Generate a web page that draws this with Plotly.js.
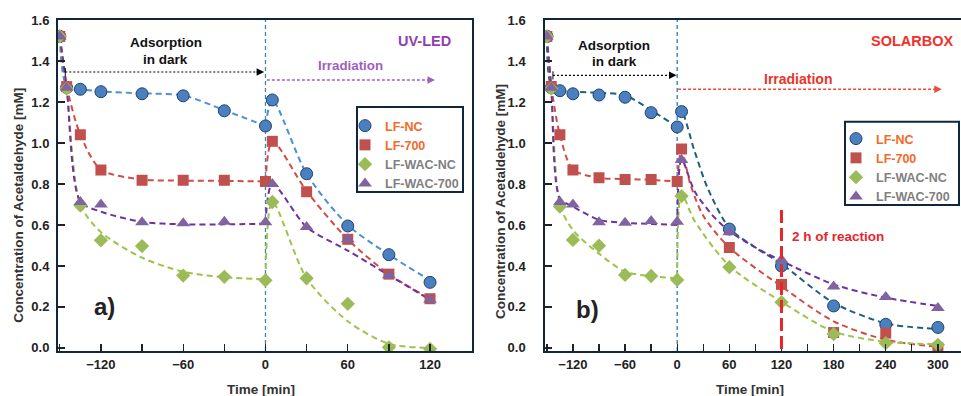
<!DOCTYPE html>
<html><head><meta charset="utf-8">
<script src="https://cdn.plot.ly/plotly-3.0.1.min.js"></script>
<style>html,body{margin:0;padding:0;background:#fff}#chart{width:961px;height:396px}</style>
</head><body><div id="chart"></div>
<script>
// ---------- data ----------
const T_DARK  = [-150,-145,-135,-120,-90,-60,-30,0];
const T_IRR_A = [5,30,60,90,120];
const T_IRR_B = [5,60,120,180,240,300];

const SERIES = ['LF-NC','LF-700','LF-WAC-NC','LF-WAC-700'];

// panel a) UV-LED measured points
const A_NC   = [1.52,1.27,1.262,1.25,1.24,1.23,1.157,1.083, 1.21,0.85,0.595,0.455,0.32];
const A_700  = [1.52,1.275,1.04,0.868,0.818,0.818,0.818,0.812, 1.008,0.762,0.53,0.36,0.24];
const A_WNC  = [1.52,1.265,0.695,0.525,0.497,0.353,0.347,0.33, 0.712,0.34,0.215,0.003,-0.005];
const A_W700 = [1.52,1.27,0.712,0.70,0.613,0.608,0.616,0.613, 0.80,0.59,0.53,0.355,0.235];

// panel b) SOLARBOX measured points
const B_NC   = [1.52,1.27,1.255,1.24,1.234,1.223,1.148,1.078, 1.153,0.58,0.40,0.205,0.115,0.10];
const B_700  = [1.52,1.275,1.04,0.868,0.83,0.822,0.822,0.812, 0.97,0.49,0.31,0.075,0.072,0.0];
const B_WNC  = [1.52,1.265,0.69,0.527,0.499,0.356,0.351,0.332, 0.741,0.394,0.223,0.068,0.023,0.015];
const B_W700 = [1.52,1.27,0.712,0.70,0.613,0.611,0.619,0.616, 0.917,0.565,0.43,0.30,0.248,0.195];

// fitted (dashed) curves
const FIT_A_NC_DARK   = [1.52,1.28,1.262,1.252,1.242,1.232,1.16,1.083];
const FIT_A_NC_IRR_T  = [0,5,30,60,90,120];
const FIT_A_NC_IRR    = [1.083,1.21,0.85,0.60,0.455,0.33];
const FIT_A_700_DARK  = [1.52,1.28,1.04,0.87,0.822,0.816,0.815,0.812];
const FIT_A_700_IRR_T = [0,5,30,60,90,120];
const FIT_A_700_IRR   = [0.812,1.008,0.765,0.53,0.36,0.24];
const FIT_A_WNC_DARK  = [1.52,1.27,0.70,0.565,0.44,0.372,0.345,0.335];
const FIT_A_WNC_IRR_T = [0,5,30,60,90,120];
const FIT_A_WNC_IRR   = [0.335,0.712,0.34,0.13,0.02,0.0];
const FIT_A_W700_DARK = [1.52,1.27,0.715,0.665,0.615,0.603,0.603,0.606];
const FIT_A_W700_IRR_T= [0,5,30,60,90,120];
const FIT_A_W700_IRR  = [0.606,0.80,0.59,0.475,0.355,0.235];

const FIT_B_NC_DARK   = [1.52,1.28,1.258,1.25,1.245,1.232,1.16,1.078];
const FIT_B_NC_IRR_T  = [0,5,20,35,60,90,120,180,240,300];
const FIT_B_NC_IRR    = [1.078,1.155,0.96,0.78,0.585,0.49,0.41,0.22,0.12,0.092];
const FIT_B_700_DARK  = [1.52,1.28,1.04,0.87,0.83,0.824,0.82,0.812];
const FIT_B_700_IRR_T = [0,5,15,30,60,120,180,240,300];
const FIT_B_700_IRR   = [0.812,0.966,0.80,0.645,0.49,0.30,0.13,0.04,0.005];
const FIT_B_WNC_DARK  = [1.52,1.27,0.70,0.575,0.46,0.372,0.35,0.34];
const FIT_B_WNC_IRR_T = [0,5,20,60,120,180,240,300];
const FIT_B_WNC_IRR   = [0.34,0.75,0.62,0.40,0.225,0.08,0.03,0.018];
const FIT_B_W700_DARK = [1.52,1.27,0.73,0.69,0.625,0.61,0.605,0.60];
const FIT_B_W700_IRR_T= [0,5,20,40,60,90,120,180,240,300];
const FIT_B_W700_IRR  = [0.60,0.92,0.765,0.65,0.57,0.49,0.425,0.31,0.245,0.205];

// ---------- styling ----------
const F = '"Liberation Sans", Arial, sans-serif';
const W = 961, H = 396;
const px = x => x / W, py = y => 1 - y / H;

const MK = [
  {symbol:'circle', size:12, color:'#4a7fc0', line:{color:'#1f4370', width:1}},
  {symbol:'square', size:11, color:'#c0504d', line:{width:0}},
  {symbol:'diamond', size:11, color:'#9bbb59', line:{width:0}},
  {symbol:'triangle-up', size:12, color:'#8064a2', line:{width:0}}
];
const NAMECOL = ['#f26a2a','#f26a2a','#808080','#808080'];
const LINE_A = ['#4a90d4','#d44a44','#9cc34a','#7030a0'];
const LINE_B = ['#1d5f80','#d44a44','#9cc34a','#7030a0'];
const DASH = '6px,4px';

function fitTrace(dark, irrT, irr, color, xa, ya){
  return {x: T_DARK.concat([null], irrT), y: dark.concat([null], irr),
    xaxis:xa, yaxis:ya, mode:'lines', type:'scatter', showlegend:false, hoverinfo:'skip',
    connectgaps:false, line:{color, width:2, dash:DASH, shape:'spline', smoothing:0.8}};
}
function ptTrace(t, v, i, xa, ya, leg){
  return {x:t, y:v, xaxis:xa, yaxis:ya, mode:'markers', type:'scatter',
    name:'<span style="color:'+NAMECOL[i]+'">'+SERIES[i]+'</span>',
    legend:leg, marker:MK[i]};
}

const TA = T_DARK.concat(T_IRR_A), TB = T_DARK.concat(T_IRR_B);
const fitsA = [[FIT_A_NC_DARK,FIT_A_NC_IRR_T,FIT_A_NC_IRR],[FIT_A_700_DARK,FIT_A_700_IRR_T,FIT_A_700_IRR],
               [FIT_A_WNC_DARK,FIT_A_WNC_IRR_T,FIT_A_WNC_IRR],[FIT_A_W700_DARK,FIT_A_W700_IRR_T,FIT_A_W700_IRR]];
const fitsB = [[FIT_B_NC_DARK,FIT_B_NC_IRR_T,FIT_B_NC_IRR],[FIT_B_700_DARK,FIT_B_700_IRR_T,FIT_B_700_IRR],
               [FIT_B_WNC_DARK,FIT_B_WNC_IRR_T,FIT_B_WNC_IRR],[FIT_B_W700_DARK,FIT_B_W700_IRR_T,FIT_B_W700_IRR]];
const ptsA = [A_NC,A_700,A_WNC,A_W700], ptsB = [B_NC,B_700,B_WNC,B_W700];

const data = [];
fitsA.forEach((f,i)=>data.push(fitTrace(f[0],f[1],f[2],LINE_A[i],'x','y')));
fitsB.forEach((f,i)=>data.push(fitTrace(f[0],f[1],f[2],LINE_B[i],'x2','y2')));
ptsA.forEach((v,i)=>data.push(ptTrace(TA,v,i,'x','y','legend')));
ptsB.forEach((v,i)=>data.push(ptTrace(TB,v,i,'x2','y2','legend2')));

const tickF = {family:F, size:13, color:'#222', weight:'bold'};
const ax = {showline:true, mirror:true, linecolor:'#10263a', linewidth:2, ticks:'inside', ticklen:7,
  tickwidth:1.3, tickcolor:'#222', showgrid:false, zeroline:false, tickfont:tickF, fixedrange:true};
const xminor = {ticks:'inside', dtick:30, tick0:0, ticklen:7, tickwidth:1.3, tickcolor:'#222', showgrid:false};
const YDOM = [1-351/H, 1-20/H], YR = [-0.015, 1.6];

const layout = {
  width:W, height:H, margin:{l:0,r:0,t:0,b:0}, paper_bgcolor:'#fff', plot_bgcolor:'#fff',
  showlegend:true,
  xaxis: Object.assign({}, ax, {domain:[px(58), px(472)], range:[-151.3,150.6], tickmode:'linear', tick0:0, dtick:60, minor:xminor, anchor:'y'}),
  yaxis: Object.assign({}, ax, {domain:YDOM, range:YR, tickmode:'linear', tick0:0, dtick:0.2, tickformat:'.1f', anchor:'x', ticklabelstandoff:4}),
  xaxis2: Object.assign({}, ax, {domain:[px(545.3), 1], range:[-151.8,326.6], tickmode:'linear', tick0:0, dtick:60, minor:xminor, anchor:'y2'}),
  yaxis2: Object.assign({}, ax, {domain:YDOM, range:YR, tickmode:'linear', tick0:0, dtick:0.2, tickformat:'.1f', anchor:'x2', ticklabelstandoff:15}),
  legend: {x:px(345), y:py(111), xanchor:'left', yanchor:'top', bgcolor:'rgba(0,0,0,0)', borderwidth:0,
    font:{family:F, size:12.5, weight:'bold'}, itemclick:false},
  legend2: {x:px(836), y:py(124), xanchor:'left', yanchor:'top', bgcolor:'rgba(0,0,0,0)', borderwidth:0,
    font:{family:F, size:12.5, weight:'bold'}, itemclick:false},
  shapes: [
    // t = 0 separators
    {type:'line', xref:'x', yref:'y', x0:0, x1:0, y0:YR[0], y1:YR[1], layer:'below', line:{color:'#3f86b0', width:1.3, dash:'4px,3px'}},
    {type:'line', xref:'x2', yref:'y2', x0:0, x1:0, y0:YR[0], y1:YR[1], layer:'below', line:{color:'#2e78b0', width:1.3, dash:'4px,3px'}},
    // arrows
    {type:'line', xref:'x', yref:'y', x0:-146, x1:-4, y0:1.346, y1:1.346, line:{color:'#000', width:1.1, dash:'2px,2px'}},
    {type:'line', xref:'x', yref:'y', x0:-146, x1:-146, y0:1.326, y1:1.366, line:{color:'#000', width:1}},
    {type:'line', xref:'x', yref:'y', x0:1, x1:119, y0:1.307, y1:1.307, line:{color:'#a060c0', width:1.4, dash:'3px,2px'}},
    {type:'line', xref:'x2', yref:'y2', x0:-143, x1:-4, y0:1.33, y1:1.33, line:{color:'#000', width:1.1, dash:'2px,2px'}},
    {type:'line', xref:'x2', yref:'y2', x0:-143, x1:-143, y0:1.31, y1:1.35, line:{color:'#000', width:1}},
    {type:'line', xref:'x2', yref:'y2', x0:1, x1:298, y0:1.262, y1:1.262, line:{color:'#f04a3a', width:1.4, dash:'3px,2px'}},
    // 2 h marker
    {type:'line', xref:'x2', yref:'y2', x0:120, x1:120, y0:0.673, y1:-0.015, layer:'above', line:{color:'#e8262a', width:3, dash:'13px,5px'}},
    // legend frames
    {type:'rect', xref:'paper', yref:'paper', x0:px(357), x1:px(463), y0:py(192), y1:py(107), layer:'above', fillcolor:'#fff', line:{color:'#10263a', width:2}},
    {type:'rect', xref:'paper', yref:'paper', x0:px(845), x1:px(959), y0:py(205), y1:py(121.7), layer:'above', fillcolor:'#fff', line:{color:'#10263a', width:2}}
  ],
  annotations: []
};

function txt(text, x, y, size, color, extra){
  return Object.assign({text, xref:'paper', yref:'paper', x:px(x), y:py(y), xanchor:'center', yanchor:'middle',
    showarrow:false, font:{family:F, size, color, weight:'bold'}}, extra||{});
}
function head(xr, yr, x, y, color){
  return {xref:xr, yref:yr, x, y, ax:-9, ay:0, text:'', showarrow:true, arrowhead:2, arrowsize:1.5, arrowwidth:1, arrowcolor:color};
}
layout.annotations.push(
  txt('Concentration of Acetaldehyde [mM]', 18.8, 205, 13.5, '#333', {textangle:-90}),
  txt('Concentration of Acetaldehyde [mM]', 501, 202, 13.5, '#333', {textangle:-90}),
  txt('Time [min]', 261, 389, 13.5, '#333'),
  txt('Time [min]', 750, 389, 13.5, '#333'),
  txt('Adsorption', 165.7, 42.7, 13.5, '#111'),
  txt('in dark', 165.7, 59, 13.5, '#111'),
  txt('Adsorption', 614.3, 45.7, 13.5, '#111'),
  txt('in dark', 614.3, 61.7, 13.5, '#111'),
  txt('UV-LED', 424, 40.7, 14.5, '#9040b0'),
  txt('Irradiation', 350.7, 65, 13.3, '#a060c0'),
  txt('SOLARBOX', 912.3, 40.7, 14.5, '#f0302a'),
  txt('Irradiation', 797.7, 79, 14, '#e8352a'),
  txt('2 h of reaction', 838.3, 236.7, 13.5, '#e8262a'),
  txt('a)', 104.5, 306.7, 24, '#222'),
  txt('b)', 587, 309, 24, '#222'),
  head('x','y',-1,1.346,'#000'),
  head('x','y',123.6,1.307,'#a060c0'),
  head('x2','y2',-0.8,1.33,'#000'),
  head('x2','y2',304.5,1.262,'#f04a3a')
);

Plotly.newPlot('chart', data, layout, {displayModeBar:false, staticPlot:true});
</script>
</body></html>
